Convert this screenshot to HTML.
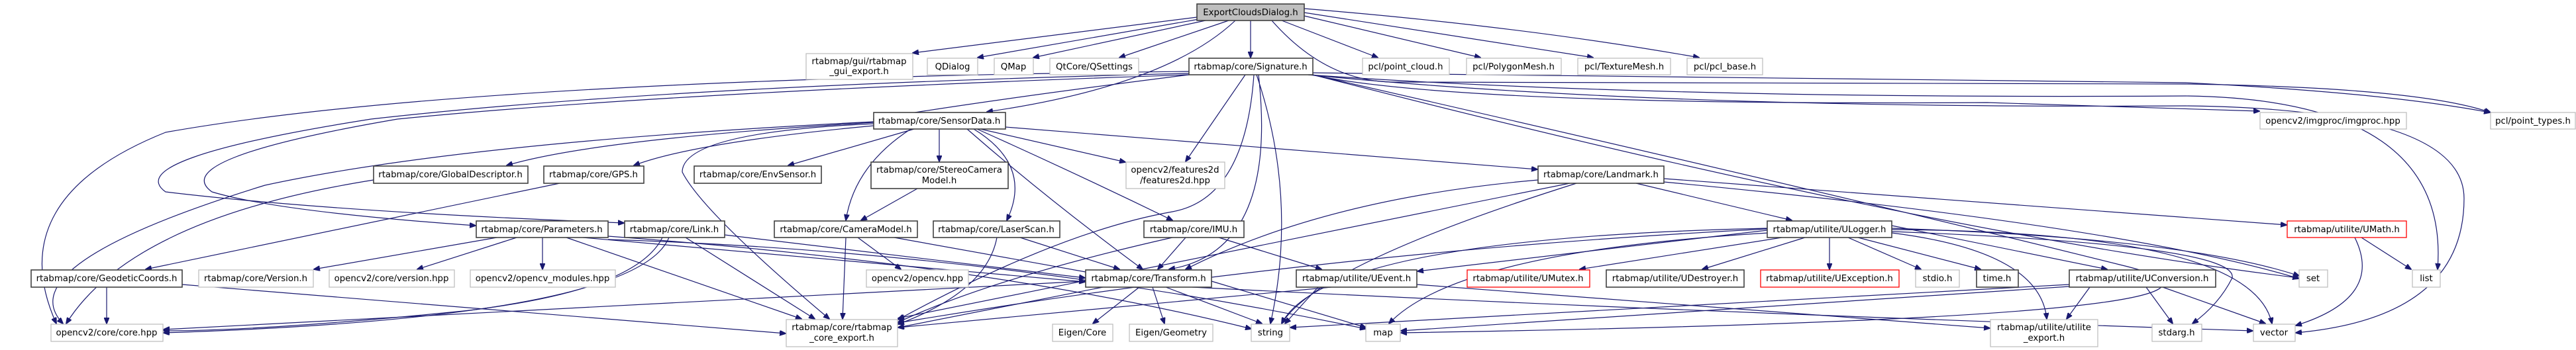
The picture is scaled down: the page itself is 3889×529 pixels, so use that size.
<!DOCTYPE html>
<html><head><meta charset="utf-8"><style>
html,body{margin:0;padding:0;background:#fff;}
svg{display:block;}
text{font-family:"DejaVu Sans","Liberation Sans",sans-serif;font-size:13.3px;fill:#000;text-anchor:middle;}
.e{fill:none;stroke:#191970;stroke-width:1.2;marker-end:url(#a);}
.g{fill:#fff;stroke:#bfbfbf;stroke-width:1.3;}
.b{fill:#fff;stroke:#404040;stroke-width:1.6;}
.r{fill:#fff;stroke:#ff0000;stroke-width:1.3;}
</style></head><body>
<svg width="3889" height="529" viewBox="0 0 3889 529" xmlns="http://www.w3.org/2000/svg">
<defs><marker id="a" markerWidth="10" markerHeight="8" refX="9" refY="4" orient="auto" markerUnits="userSpaceOnUse"><path d="M0,0 L10,4 L0,8 z" fill="#191970" stroke="#191970"/></marker></defs>
<g>
<!-- Export edges -->
<path class="e" d="M1807 26 L1378 80"/>
<path class="e" d="M1810 29 L1476 87"/>
<path class="e" d="M1820 31 L1560 87"/>
<path class="e" d="M1855 31 L1690 87"/>
<path class="e" d="M1888 31 L1888 87"/>
<path class="e" d="M1865 31 Q1760 130 1490 169"/>
<path class="e" d="M1935 31 L2080 87"/>
<path class="e" d="M1969 24 L2235 87"/>
<path class="e" d="M1969 19 L2405 87"/>
<path class="e" d="M1969 13 Q2300 40 2565 87"/>
<path class="e" d="M1920 31 Q2000 122 2100 124 L3300 127 Q3650 132 3760 170"/>
<!-- Signature edges -->
<path class="e" d="M1880 113 L1790 244"/>
<path class="e" d="M1900 113 Q1930 380 1765 407"/>
<path class="e" d="M1897 113 Q1960 300 1918 489"/>
<path class="e" d="M1893 113 Q1880 300 1770 320 Q1600 350 1356 483"/>
<path class="e" d="M1980 113 Q2200 160 3000 155 L3411 168"/>
<path class="e" d="M1980 110 L3300 125 Q3600 140 3759 170"/>
<path class="e" d="M1975 113 Q2500 150 3300 145 Q3700 150 3680 407"/>
<path class="e" d="M1975 113 Q2500 165 3300 160 Q3720 165 3720 300 Q3720 480 3466 503"/>
<path class="e" d="M1982 113 Q2800 300 3200 400 Q3540 480 2115 503"/>
<path class="e" d="M1982 113 Q2900 350 3470 420"/>
<path class="e" d="M1795 108 Q700 120 250 200 Q0 300 85 489"/>
<path class="e" d="M1795 111 Q1000 130 560 180 Q180 240 250 290 Q500 320 942 337"/>
<path class="e" d="M1795 113 Q1000 140 600 180 Q250 240 320 290 Q420 320 718 341"/>
<path class="e" d="M1795 113 Q1500 150 1319 180"/>
<!-- SensorData edges -->
<path class="e" d="M1319 185 Q900 210 765 250"/>
<path class="e" d="M1319 190 Q1050 215 957 250"/>
<path class="e" d="M1380 195 L1190 250"/>
<path class="e" d="M1418 195 L1418 244"/>
<path class="e" d="M1375 195 Q1290 250 1277 333"/>
<path class="e" d="M1470 195 Q1560 250 1520 333"/>
<path class="e" d="M1475 195 Q1620 260 1770 333"/>
<path class="e" d="M1480 195 L1699 245"/>
<path class="e" d="M1460 195 Q1580 300 1725 407"/>
<path class="e" d="M1319 187 Q1030 200 1030 260 Q1060 320 1252 482"/>
<path class="e" d="M1319 184 Q700 215 400 280 Q10 400 95 489"/>
<path class="e" d="M1518 192 L2321 256"/>
<!-- others -->
<path class="e" d="M564 272 Q200 330 100 489"/>
<path class="e" d="M845 277 L220 407"/>
<path class="e" d="M1385 285 L1300 333"/>
<path class="e" d="M1295 359 L1360 407"/>
<path class="e" d="M1277 359 L1272 482"/>
<path class="e" d="M1350 359 L1650 413"/>
<path class="e" d="M1540 359 L1690 407"/>
<path class="e" d="M1505 359 Q1490 440 1356 490"/>
<path class="e" d="M1790 359 L1748 407"/>
<path class="e" d="M1770 359 Q1500 420 1356 487"/>
<path class="e" d="M1840 359 L1995 407"/>
<path class="e" d="M1094 355 L1638 420"/>
<path class="e" d="M1035 359 L1230 482"/>
<path class="e" d="M1000 359 Q960 440 700 470 Q400 500 247 500"/>
<path class="e" d="M1010 359 Q960 480 247 503"/>
<path class="e" d="M750 359 L474 407"/>
<path class="e" d="M780 359 L630 407"/>
<path class="e" d="M819 359 L819 407"/>
<path class="e" d="M855 359 L1210 482"/>
<path class="e" d="M880 359 L1638 426"/>
<path class="e" d="M918 357 Q1500 400 1889 497"/>
<path class="e" d="M918 362 Q1500 380 2062 497"/>
<path class="e" d="M161 434 L161 489"/>
<path class="e" d="M275 430 L1186 504"/>
<path class="e" d="M1720 434 L1650 489"/>
<path class="e" d="M1740 434 L1758 489"/>
<path class="e" d="M1760 434 L1905 489"/>
<path class="e" d="M1665 434 L1356 495"/>
<path class="e" d="M1639 425 L247 498"/>
<path class="e" d="M1829 425 L2062 495"/>
<path class="e" d="M1800 434 Q2500 470 3401 500"/>
<path class="e" d="M2322 272 Q2000 300 1790 407"/>
<path class="e" d="M2370 277 L1356 481"/>
<path class="e" d="M2380 277 Q1990 400 1935 489"/>
<path class="e" d="M2470 277 L2705 333"/>
<path class="e" d="M2512 270 L3452 340"/>
<path class="e" d="M2512 275 Q3200 340 3471 421"/>
<path class="e" d="M2668 348 L2140 410"/>
<path class="e" d="M2690 359 L2385 407"/>
<path class="e" d="M2725 359 L2570 407"/>
<path class="e" d="M2762 359 L2762 407"/>
<path class="e" d="M2790 359 L2900 407"/>
<path class="e" d="M2805 359 L2990 407"/>
<path class="e" d="M2856 341 L3181 407"/>
<path class="e" d="M2856 345 Q3300 360 3471 417"/>
<path class="e" d="M2856 352 Q3080 380 3090 482"/>
<path class="e" d="M2856 350 Q3380 370 3370 420 Q3350 460 3310 489"/>
<path class="e" d="M2856 347 Q3400 350 3430 489"/>
<path class="e" d="M2670 352 Q2200 380 2097 489"/>
<path class="e" d="M2668 345 Q2000 360 1935 489"/>
<path class="e" d="M2668 346 Q2000 380 1356 488"/>
<path class="e" d="M1990 434 L1940 489"/>
<path class="e" d="M2139 430 L3004 496"/>
<path class="e" d="M2010 434 L1356 495"/>
<path class="e" d="M3155 434 L3120 482"/>
<path class="e" d="M3240 434 L3280 489"/>
<path class="e" d="M3265 434 L3420 489"/>
<path class="e" d="M3124 430 L1948 495"/>
<path class="e" d="M3124 433 L2115 500"/>
<path class="e" d="M3555 359 Q3600 450 3466 492"/>
<path class="e" d="M3565 359 L3640 407"/>
</g>
<g>
<rect x="1807" y="6" width="162" height="25" fill="#bfbfbf" stroke="#404040" stroke-width="1.6"/><text x="1888" y="23">ExportCloudsDialog.h</text>
<rect class="g" x="1217" y="81" width="161" height="39"/><text x="1297" y="97">rtabmap/gui/rtabmap</text><text x="1297" y="112">_gui_export.h</text>
<rect class="g" x="1400" y="88" width="76" height="25"/><text x="1438" y="105">QDialog</text>
<rect class="g" x="1501" y="88" width="59" height="25"/><text x="1530" y="105">QMap</text>
<rect class="g" x="1585" y="88" width="134" height="25"/><text x="1652" y="105">QtCore/QSettings</text>
<rect class="b" x="1795" y="88" width="187" height="25"/><text x="1888" y="105">rtabmap/core/Signature.h</text>
<rect class="g" x="2057" y="88" width="131" height="25"/><text x="2122" y="105">pcl/point_cloud.h</text>
<rect class="g" x="2214" y="88" width="143" height="25"/><text x="2285" y="105">pcl/PolygonMesh.h</text>
<rect class="g" x="2382" y="88" width="140" height="25"/><text x="2452" y="105">pcl/TextureMesh.h</text>
<rect class="g" x="2547" y="88" width="114" height="25"/><text x="2604" y="105">pcl/pcl_base.h</text>
<rect class="b" x="1319" y="170" width="199" height="25"/><text x="1418" y="187">rtabmap/core/SensorData.h</text>
<rect class="g" x="3412" y="170" width="221" height="25"/><text x="3522" y="187">opencv2/imgproc/imgproc.hpp</text>
<rect class="g" x="3760" y="170" width="128" height="25"/><text x="3824" y="187">pcl/point_types.h</text>
<rect class="b" x="564" y="251" width="233" height="26"/><text x="680" y="268">rtabmap/core/GlobalDescriptor.h</text>
<rect class="b" x="821" y="251" width="151" height="26"/><text x="896" y="268">rtabmap/core/GPS.h</text>
<rect class="b" x="1048" y="251" width="192" height="26"/><text x="1144" y="268">rtabmap/core/EnvSensor.h</text>
<rect class="b" x="1315" y="245" width="207" height="40"/><text x="1418" y="261">rtabmap/core/StereoCamera</text><text x="1418" y="277">Model.h</text>
<rect class="g" x="1700" y="245" width="149" height="40"/><text x="1774" y="261">opencv2/features2d</text><text x="1774" y="277">/features2d.hpp</text>
<rect class="b" x="2322" y="251" width="190" height="26"/><text x="2417" y="268">rtabmap/core/Landmark.h</text>
<rect class="b" x="719" y="334" width="199" height="25"/><text x="818" y="351">rtabmap/core/Parameters.h</text>
<rect class="b" x="943" y="334" width="151" height="25"/><text x="1018" y="351">rtabmap/core/Link.h</text>
<rect class="b" x="1169" y="334" width="216" height="25"/><text x="1277" y="351">rtabmap/core/CameraModel.h</text>
<rect class="b" x="1409" y="334" width="191" height="25"/><text x="1504" y="351">rtabmap/core/LaserScan.h</text>
<rect class="b" x="1727" y="334" width="151" height="25"/><text x="1802" y="351">rtabmap/core/IMU.h</text>
<rect class="b" x="2668" y="334" width="188" height="25"/><text x="2762" y="351">rtabmap/utilite/ULogger.h</text>
<rect class="r" x="3453" y="334" width="180" height="25"/><text x="3543" y="351">rtabmap/utilite/UMath.h</text>
<rect class="b" x="47" y="408" width="228" height="26"/><text x="161" y="425">rtabmap/core/GeodeticCoords.h</text>
<rect class="g" x="300" y="408" width="173" height="26"/><text x="386" y="425">rtabmap/core/Version.h</text>
<rect class="g" x="497" y="408" width="189" height="26"/><text x="591" y="425">opencv2/core/version.hpp</text>
<rect class="g" x="710" y="408" width="219" height="26"/><text x="819" y="425">opencv2/opencv_modules.hpp</text>
<rect class="g" x="1308" y="408" width="154" height="26"/><text x="1385" y="425">opencv2/opencv.hpp</text>
<rect class="b" x="1639" y="408" width="190" height="26"/><text x="1734" y="425">rtabmap/core/Transform.h</text>
<rect class="b" x="1957" y="408" width="182" height="26"/><text x="2048" y="425">rtabmap/utilite/UEvent.h</text>
<rect class="r" x="2215" y="408" width="185" height="26"/><text x="2307" y="425">rtabmap/utilite/UMutex.h</text>
<rect class="b" x="2425" y="408" width="208" height="26"/><text x="2529" y="425">rtabmap/utilite/UDestroyer.h</text>
<rect class="r" x="2658" y="408" width="209" height="26"/><text x="2762" y="425">rtabmap/utilite/UException.h</text>
<rect class="g" x="2892" y="408" width="66" height="26"/><text x="2925" y="425">stdio.h</text>
<rect class="b" x="2984" y="408" width="63" height="26"/><text x="3015" y="425">time.h</text>
<rect class="b" x="3124" y="408" width="221" height="26"/><text x="3234" y="425">rtabmap/utilite/UConversion.h</text>
<rect class="g" x="3471" y="408" width="43" height="26"/><text x="3492" y="425">set</text>
<rect class="g" x="3642" y="408" width="42" height="26"/><text x="3663" y="425">list</text>
<rect class="g" x="77" y="490" width="169" height="26"/><text x="161" y="507">opencv2/core/core.hpp</text>
<rect class="g" x="1187" y="483" width="168" height="41"/><text x="1271" y="499">rtabmap/core/rtabmap</text><text x="1271" y="515">_core_export.h</text>
<rect class="g" x="1589" y="490" width="91" height="26"/><text x="1634" y="507">Eigen/Core</text>
<rect class="g" x="1705" y="490" width="126" height="26"/><text x="1768" y="507">Eigen/Geometry</text>
<rect class="g" x="1889" y="490" width="58" height="26"/><text x="1918" y="507">string</text>
<rect class="g" x="2062" y="490" width="52" height="26"/><text x="2088" y="507">map</text>
<rect class="g" x="3005" y="483" width="162" height="41"/><text x="3086" y="499">rtabmap/utilite/utilite</text><text x="3086" y="515">_export.h</text>
<rect class="g" x="3249" y="490" width="75" height="26"/><text x="3286" y="507">stdarg.h</text>
<rect class="g" x="3402" y="490" width="63" height="26"/><text x="3433" y="507">vector</text>
</g>
</svg>
</body></html>
